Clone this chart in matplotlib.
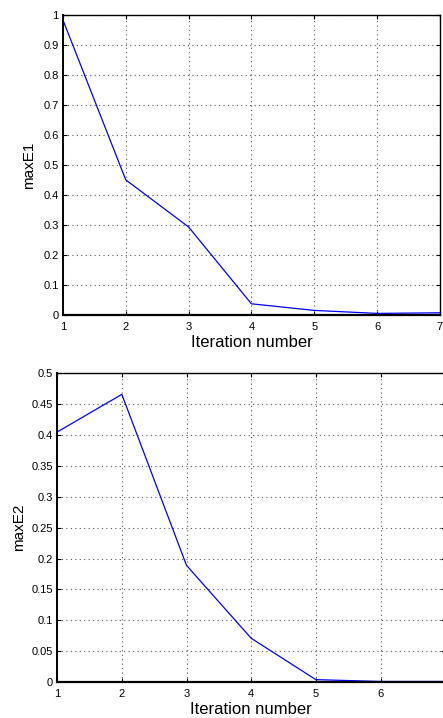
import numpy as np
import matplotlib
matplotlib.use("Agg")
import matplotlib.pyplot as plt

plt.rcParams['font.family'] = ['Liberation Sans', 'DejaVu Sans']

iters = [1, 2, 3, 4, 5, 6, 7]
maxE1 = [0.984, 0.451, 0.294, 0.038, 0.016, 0.006, 0.008]
maxE2 = [0.405, 0.466, 0.189, 0.071, 0.004, 0.001, 0.001]

fig = plt.figure(figsize=(4.43, 7.18), dpi=100)
ax1 = fig.add_axes([0.142, 0.561, 0.851, 0.418])
ax2 = fig.add_axes([0.129, 0.050, 0.876, 0.430])


def style(ax, yticks, ylabels):
    ax.set_xlim(1, 7)
    ax.set_xticks(iters)
    ax.set_yticks(yticks)
    ax.set_yticklabels(ylabels)
    ax.grid(True, linestyle=(0, (1, 3)), color='#555555', linewidth=0.8)
    ax.tick_params(direction='in', length=3, labelsize=8,
                   top=True, right=True)
    ax.tick_params(axis='x', pad=5)
    ax.tick_params(axis='y', pad=3)
    for s in ax.spines.values():
        s.set_linewidth(1.0)
    ax.spines['bottom'].set_linewidth(1.6)
    ax.spines['left'].set_linewidth(1.4)
    ax.set_xlabel("Iteration number", fontsize=12, labelpad=2)


ax1.plot(iters, maxE1, color='blue', linewidth=0.9)
ax1.set_ylim(0, 1)
style(ax1, np.arange(0, 1.01, 0.1), ['0', '0.1', '0.2', '0.3', '0.4', '0.5',
                                       '0.6', '0.7', '0.8', '0.9', '1'])
ax1.set_ylabel("maxE1", fontsize=11, labelpad=5)

ax2.plot(iters, maxE2, color='blue', linewidth=0.9)
ax2.set_ylim(0, 0.5)
style(ax2, np.arange(0, 0.501, 0.05), ['0', '0.05', '0.1', '0.15', '0.2', '0.25',
                                        '0.3', '0.35', '0.4', '0.45', '0.5'])
ax2.set_ylabel("maxE2", fontsize=11, labelpad=4)
ax2.set_xticklabels(['1', '2', '3', '4', '5', '6', ''])

fig.savefig("out.png", dpi=100)
